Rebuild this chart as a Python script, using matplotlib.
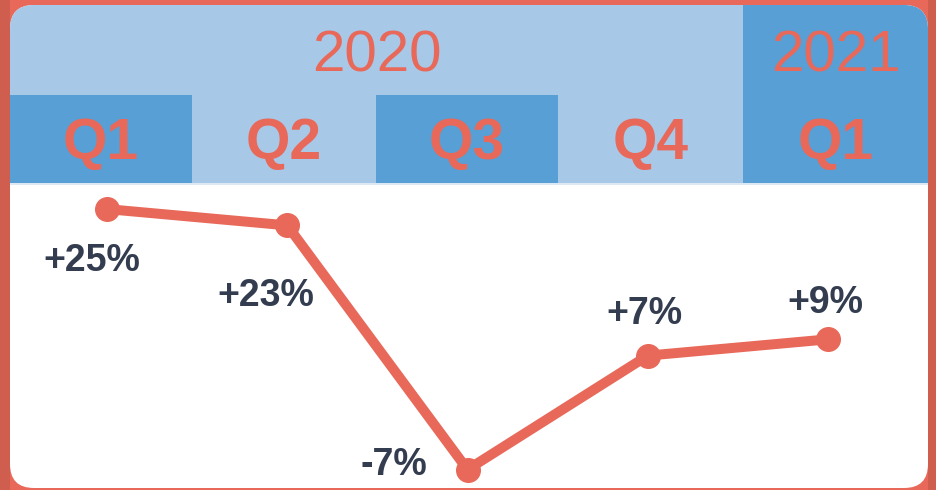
import matplotlib
matplotlib.use("Agg")
import matplotlib.pyplot as plt
from matplotlib.patches import FancyBboxPatch, Rectangle
from matplotlib.transforms import Affine2D

# ---- data ----
years = ["2020", "2021"]
quarters = ["Q1", "Q2", "Q3", "Q4", "Q1"]
growth = [25, 23, -7, 7, 9]
labels = [f"{v:+d}%" for v in growth]

# ---- style ----
CORAL = "#E8695A"
CORAL_DARK = "#CF5E4F"
LIGHT_BLUE = "#A8C8E7"
DARK_BLUE = "#579FD5"
TEXT_DARK = "#333D4F"
FONT = "Liberation Sans"

W, H = 936, 490
fig = plt.figure(figsize=(W / 100, H / 100), dpi=100)
fig.patch.set_facecolor(CORAL)

# pixel transform (origin top-left)
pix = Affine2D().scale(1 / W, -1 / H).translate(0, 1) + fig.transFigure

ax = fig.add_axes([0, 0, 1, 1])
ax.set_axis_off()
ax.set_facecolor("none")
# data axes mapped so that x=0 -> 107px, step 180.25px; y: 8.14px per unit
xstep = 180.25
ax.set_xlim(-107 / xstep, (W - 107) / xstep)
ax.set_ylim(11.4 - (H - 319.8) / 8.14, 11.4 + 319.8 / 8.14)

# darker side edges of the frame
for x0 in (0, 928):
    ax.add_patch(Rectangle((x0, 0), 8 if x0 else 10, H, transform=pix,
                           facecolor=CORAL_DARK, edgecolor="none", zorder=0))

panel = FancyBboxPatch((10, 5), 918, 483,
                       boxstyle="round,pad=0,rounding_size=24",
                       transform=pix, facecolor="white", edgecolor="none", zorder=1)
ax.add_patch(panel)

# header: year band
year_spans = [(10, 743, LIGHT_BLUE), (743, 928, DARK_BLUE)]
for (x0, x1, c), yr in zip(year_spans, years):
    r = Rectangle((x0, 5), x1 - x0, 90, transform=pix, facecolor=c,
                  edgecolor="none", zorder=2)
    ax.add_patch(r)
    r.set_clip_path(panel)
    ax.text((x0 + x1) / 2, 72, yr, transform=pix, ha="center", va="baseline",
            fontsize=42, color=CORAL, family=FONT, zorder=5)

# header: quarter row
q_edges = [10, 192, 376, 558, 743, 928]
q_colors = [DARK_BLUE, LIGHT_BLUE, DARK_BLUE, LIGHT_BLUE, DARK_BLUE]
for i, q in enumerate(quarters):
    x0, x1 = q_edges[i], q_edges[i + 1]
    r = Rectangle((x0, 95), x1 - x0, 88, transform=pix, facecolor=q_colors[i],
                  edgecolor="none", zorder=2)
    ax.add_patch(r)
    r.set_clip_path(panel)
    ax.text((x0 + x1) / 2, 159, q, transform=pix, ha="center", va="baseline",
            fontsize=41, fontweight="bold", color=CORAL, family=FONT, zorder=5)
ax.add_patch(Rectangle((10, 183), 918, 2, transform=pix, facecolor="#DCE9F5",
                       edgecolor="none", zorder=2))

# line
xs = list(range(len(growth)))
ax.plot(xs, growth, color=CORAL, lw=7.2, marker="o", markersize=17,
        solid_capstyle="round", zorder=4)

# value labels (offsets in pixels, style only)
offsets = [(-15, -62), (-21, -81), (-74, -5), (-3, 32), (-3, 26)]
for x, v, lab, (dx, dy) in zip(xs, growth, labels, offsets):
    ax.annotate(lab, (x, v), xytext=(dx, dy), textcoords="offset pixels",
                ha="center", va="baseline", fontsize=27, fontweight="bold",
                color=TEXT_DARK, family=FONT, zorder=6)

fig.savefig("out.png", dpi=100, facecolor=fig.get_facecolor())
